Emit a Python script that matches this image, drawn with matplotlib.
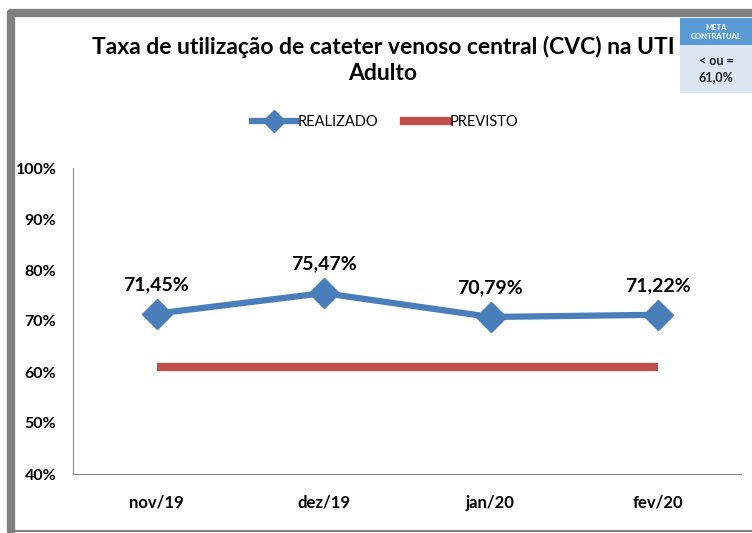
import matplotlib.pyplot as plt
from matplotlib.lines import Line2D
from matplotlib.patches import Rectangle

meses = ['nov/19', 'dez/19', 'jan/20', 'fev/20']
realizado = [71.45, 75.47, 70.79, 71.22]
previsto = [61.0, 61.0, 61.0, 61.0]
rotulos = ['71,45%', '75,47%', '70,79%', '71,22%']
yticks = [40, 50, 60, 70, 80, 90, 100]

plt.rcParams['font.family'] = ['Lato', 'DejaVu Sans']

W, H = 752, 533
fig = plt.figure(figsize=(W / 100, H / 100), dpi=100)
ax = fig.add_axes([73 / W, 1 - 474 / H, (741 - 73) / W, (474 - 168) / H])

x = [i + 0.5 for i in range(len(meses))]
ax.plot(x, previsto, color='#C0504D', linewidth=6, solid_capstyle='butt', label='PREVISTO', zorder=2)
ax.plot(x, realizado, color='#4A7EBB', linewidth=4.5, marker='D', markersize=15,
        label='REALIZADO', zorder=3)

for xi, yi, t in zip(x, realizado, rotulos):
    ax.annotate(t, (xi, yi), xytext=(0, 15), textcoords='offset points',
                ha='center', va='bottom', fontsize=14, fontweight='bold')

ax.set_xlim(0, len(meses))
ax.set_ylim(40, 100)
ax.set_xticks(x)
ax.set_xticklabels(meses, fontsize=12, fontweight='bold')
ax.set_yticks(yticks)
ax.set_yticklabels([f'{v}%' for v in yticks], fontsize=11.5, fontweight='bold')
ax.tick_params(length=0, pad=15)
ax.tick_params(axis='y', pad=12)
for s in ['top', 'right']:
    ax.spines[s].set_visible(False)
for s in ['left', 'bottom']:
    ax.spines[s].set_color('#868686')

# legenda
handles = [Line2D([], [], color='#4A7EBB', linewidth=4.5, marker='D', markersize=11),
           Line2D([], [], color='#C0504D', linewidth=6)]
fig.legend(handles, ['REALIZADO', 'PREVISTO'], loc='center', bbox_to_anchor=(385 / W, 1 - 122 / H),
           ncol=2, frameon=False, fontsize=10.5, handlelength=3, columnspacing=1.8, handletextpad=0.1)

# titulo
fig.text(383 / W, 1 - 60 / H, 'Taxa de utilização de cateter venoso central (CVC) na UTI\nAdulto',
         ha='center', va='center', fontsize=16.5, fontweight='bold', linespacing=1.32)

# moldura
def px(xp, yp):
    return xp / W, 1 - yp / H

fig.add_artist(Line2D([px(11, 0)[0], px(11, 0)[0]], [px(0, 531)[1], px(0, 13)[1]],
                      color='#808080', linewidth=6, solid_capstyle='round', transform=fig.transFigure))
fig.add_artist(Line2D([px(11, 0)[0], 1.0], [px(0, 13)[1], px(0, 13)[1]],
                      color='#808080', linewidth=6, solid_capstyle='round', transform=fig.transFigure))
fig.add_artist(Line2D([px(11, 0)[0], 1.0], [px(0, 531)[1], px(0, 531)[1]],
                      color='#808080', linewidth=1.5, transform=fig.transFigure))

# caixa da meta
fig.add_artist(Rectangle(px(680, 45), 72 / W, 27 / H, transform=fig.transFigure,
                         facecolor='#5B9BD5', edgecolor='none'))
fig.add_artist(Rectangle(px(680, 93), 72 / W, 48 / H, transform=fig.transFigure,
                         facecolor='#DCE6F2', edgecolor='none'))
fig.text(716 / W, 1 - 32 / H, 'META\nCONTRATUAL', ha='center', va='center', fontsize=5.5,
         fontweight='bold', color='white', linespacing=1.3)
fig.text(716 / W, 1 - 69 / H, '< ou =\n61,0%', ha='center', va='center', fontsize=9,
         fontweight='bold', color='#1F1F1F', linespacing=1.4)

fig.savefig('out.png', dpi=100)
